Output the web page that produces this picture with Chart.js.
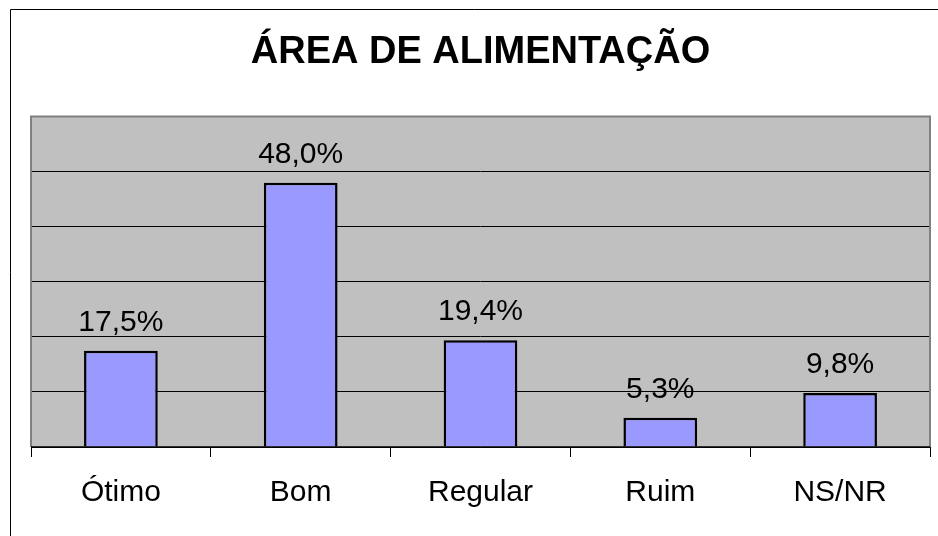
<!DOCTYPE html>
<html>
<head>
<meta charset="utf-8">
<script src="https://cdn.jsdelivr.net/npm/chart.js@4/dist/chart.umd.min.js"></script>
<style>
  html, body { margin: 0; padding: 0; background: #fff; }
  #wrap { width: 938px; height: 536px; }
</style>
</head>
<body>
<div id="wrap"><canvas id="chartCanvas"></canvas></div>
<script>
const categories = ['Ótimo', 'Bom', 'Regular', 'Ruim', 'NS/NR'];
const values = [17.5, 48.0, 19.4, 5.3, 9.8];
const yTicks = [0, 10, 20, 30, 40, 50, 60];

const fontFamily = '"Liberation Sans", Arial, sans-serif';

// frame round the whole chart and grey plot background
const framePlugin = {
    id: 'frame',
    beforeDraw(chart) {
        const ctx = chart.ctx;
        const a = chart.chartArea;
        ctx.save();
        ctx.fillStyle = '#fff';
        ctx.fillRect(0, 0, chart.width, chart.height);
        ctx.strokeStyle = '#000';
        ctx.lineWidth = 1;
        ctx.beginPath();
        ctx.moveTo(10.5, chart.height);
        ctx.lineTo(10.5, 9.5);
        ctx.lineTo(chart.width, 9.5);
        ctx.stroke();
        ctx.fillStyle = '#C0C0C0';
        ctx.fillRect(a.left, a.top, a.right - a.left, a.bottom - a.top);
        ctx.restore();
    },
    afterDatasetsDraw(chart) {
        const ctx = chart.ctx;
        const a = chart.chartArea;
        ctx.save();
        ctx.strokeStyle = '#808080';
        ctx.lineWidth = 2;
        ctx.beginPath();
        ctx.moveTo(a.left, a.bottom);
        ctx.lineTo(a.left, a.top);
        ctx.lineTo(a.right, a.top);
        ctx.lineTo(a.right, a.bottom);
        ctx.stroke();
        ctx.strokeStyle = '#000';
        ctx.lineWidth = 1.5;
        ctx.beginPath();
        ctx.moveTo(a.left, a.bottom);
        ctx.lineTo(a.right, a.bottom);
        ctx.stroke();
        ctx.restore();
    }
};

// value labels above bars
const valueLabels = {
    id: 'valueLabels',
    afterDatasetsDraw(chart) {
        const ctx = chart.ctx;
        const meta = chart.getDatasetMeta(0);
        ctx.save();
        ctx.font = '30px ' + fontFamily;
        ctx.fillStyle = '#000';
        ctx.textAlign = 'center';
        ctx.textBaseline = 'alphabetic';
        meta.data.forEach((bar, i) => {
            const txt = values[i].toFixed(1).replace('.', ',') + '%';
            ctx.fillText(txt, bar.x, bar.y - 20);
        });
        ctx.restore();
    }
};

new Chart(document.getElementById('chartCanvas'), {
    type: 'bar',
    data: {
        labels: categories,
        datasets: [{
            data: values,
            backgroundColor: '#9999FF',
            borderColor: '#000',
            borderWidth: 2.5,
            categoryPercentage: 0.41,
            barPercentage: 1.0
        }]
    },
    options: {
        responsive: true,
        maintainAspectRatio: false,
        animation: false,
        layout: { padding: { left: 31, right: 8, top: 0, bottom: 7 } },
        scales: {
            x: {
                grid: {
                    drawOnChartArea: false,
                    drawTicks: true,
                    tickLength: 10,
                    color: '#000',
                    offset: true
                },
                border: { display: false },
                ticks: {
                    color: '#000',
                    padding: 18,
                    font: { family: fontFamily, size: 30 }
                }
            },
            y: {
                min: yTicks[0],
                max: yTicks[yTicks.length - 1],
                afterBuildTicks(scale) {
                    scale.ticks = yTicks.map(v => ({ value: v }));
                },
                grid: { color: '#000', lineWidth: 1, drawTicks: false },
                border: { display: false },
                ticks: { display: false }
            }
        },
        plugins: {
            legend: { display: false },
            tooltip: { enabled: false },
            title: {
                display: true,
                text: 'ÁREA DE ALIMENTAÇÃO',
                color: '#000',
                font: { family: fontFamily, size: 38, weight: 'bold' },
                padding: { top: 30, bottom: 41 }
            }
        }
    },
    plugins: [framePlugin, valueLabels]
});
</script>
</body>
</html>
